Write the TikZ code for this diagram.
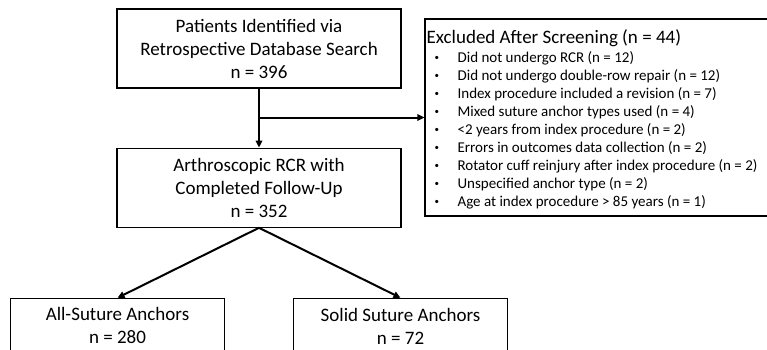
\documentclass[tikz,border=0pt]{standalone}
\usepackage{fontspec}
\setmainfont{Carlito}
\usetikzlibrary{arrows.meta,positioning}
\newcommand{\exbullet}{\raisebox{1.5pt}{\scalebox{0.6}{\textbullet}}}

\begin{document}
\begin{tikzpicture}[x=1pt, y=-1pt, node distance=59pt, box/.style={draw, line width=1.2pt, inner sep=0pt, align=center, minimum width=284pt, minimum height=79pt, font=\fontsize{19}{23}\selectfont}, armbox/.style={box, minimum width=214pt, minimum height=55pt}, exbox/.style={draw, line width=1.2pt, inner sep=0pt, minimum width=345pt, minimum height=197pt}, arr/.style={-{Triangle[length=7pt, width=6.5pt]}, line width=2pt}]
    \useasboundingbox (0,0) rectangle (767,350);
    \node[box] (found) at (259,48.5) {Patients Identified via\\Retrospective Database Search\\n = 396};
    \node[box, below=of found] (rcr) {Arthroscopic RCR with\\Completed Follow-Up\\n = 352};
    \node[armbox, below=70pt of rcr, xshift=-141.5pt] (allsut) {All-Suture Anchors\\n = 280};
    \node[armbox, below=70pt of rcr, xshift=141.5pt] (solid) {Solid Suture Anchors\\n = 72};
    \node[exbox] (excl) at (597.5,117.5) {};
    \node[anchor=north west, inner sep=0pt, align=left, font=\fontsize{15}{18}\selectfont] (exlist) at ([xshift=2pt, yshift=-11pt]excl.north west) {%
      \begin{tabular}{@{\hspace{8pt}}p{23pt}@{}l@{}}
        \multicolumn{2}{@{}l@{}}{\fontsize{19}{23}\selectfont Excluded After Screening (n = 44)}\\[1pt]
        \exbullet & Did not undergo RCR (n = 12)\\
        \exbullet & Did not undergo double-row repair (n = 12)\\
        \exbullet & Index procedure included a revision (n = 7)\\
        \exbullet & Mixed suture anchor types used (n = 4)\\
        \exbullet & <2 years from index procedure (n = 2)\\
        \exbullet & Errors in outcomes data collection (n = 2)\\
        \exbullet & Rotator cuff reinjury after index procedure (n = 2)\\
        \exbullet & Unspecified anchor type (n = 2)\\
        \exbullet & Age at index procedure > 85 years (n = 1)
      \end{tabular}};
    \coordinate (split) at (259,117.5);
    \draw[arr] (found) -- (rcr);
    \draw[arr] (split) -- (excl.west);
    \draw[arr] (rcr.south) -- (allsut.north);
    \draw[arr] (rcr.south) -- (solid.north);
  \end{tikzpicture}
\end{document}
